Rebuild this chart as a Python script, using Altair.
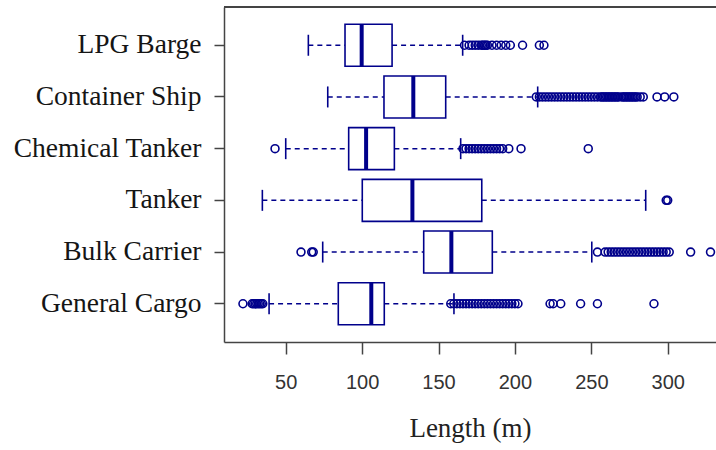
import altair as alt
import pandas as pd

categories = ["LPG Barge", "Container Ship", "Chemical Tanker", "Tanker", "Bulk Carrier", "General Cargo"]
whisker_low = [64.8, 77.5, 50.0, 34.7, 74.2, 39.1]
q1 = [88.8, 114.3, 91.2, 100.1, 140.3, 84.4]
median = [99.7, 133.5, 102.6, 132.9, 158.4, 106.0]
q3 = [119.6, 154.7, 121.1, 178.3, 185.2, 114.5]
whisker_high = [165.8, 214.9, 164.5, 285.6, 250.3, 160.1]

outliers_lpg = [167, 170, 172, 174, 176, 178, 179, 180, 181, 182, 185, 188, 191, 194, 197, 205, 216, 219]
outliers_container = [214, 216, 218, 220, 222, 224, 226, 228, 230, 232, 234, 236, 238, 240, 242, 244,
                      246, 248, 250, 252, 254, 256, 257, 258, 259, 260, 261, 262, 263, 264, 265, 266,
                      267, 268, 270, 271, 272, 273, 274, 275, 276, 277, 278, 279, 280, 282, 284,
                      293, 298, 304]
outliers_chemical = [43, 166, 168, 170, 172, 174, 176, 178, 180, 182, 184, 186, 188, 190, 192, 196, 204, 248]
outliers_tanker = [299, 300]
outliers_bulk = [60, 67, 68, 254, 259, 261, 263, 265, 267, 269, 271, 273, 275, 277, 279, 281, 283,
                 285, 287, 289, 291, 293, 295, 297, 299, 301, 315, 328]
outliers_general = [22, 28, 29, 30, 31, 32, 33, 34, 35, 158, 160, 162, 164, 166, 168, 170, 172, 174,
                    176, 178, 180, 182, 184, 186, 188, 190, 192, 194, 196, 198, 200, 202,
                    223, 225, 230, 243, 254, 291]

outlier_lists = [outliers_lpg, outliers_container, outliers_chemical,
                 outliers_tanker, outliers_bulk, outliers_general]

stats = pd.DataFrame({
    "type": categories,
    "lo": whisker_low,
    "q1": q1,
    "med": median,
    "q3": q3,
    "hi": whisker_high,
})
outs = pd.DataFrame(
    [{"type": c, "value": v} for c, lst in zip(categories, outlier_lists) for v in lst]
)

NAVY = "#00008B"
FRAME = "#444444"
W, H = 492, 335

xscale = alt.Scale(domain=[9.6, 331.6], nice=False, zero=False)
yscale = alt.Scale(domain=categories, paddingInner=0, paddingOuter=0.24)

xaxis = alt.Axis(values=[50, 100, 150, 200, 250, 300], tickSize=12, labelPadding=18,
                 labelFont="Liberation Sans", labelFontSize=20, labelColor="#333333",
                 title="Length (m)", titleFont="Liberation Serif", titleFontSize=27,
                 titleFontWeight="normal", titleColor="#222222", titlePadding=23,
                 grid=False, domainColor=FRAME, domainWidth=1.5, tickColor=FRAME, tickWidth=1.5)
yaxis = alt.Axis(tickSize=10, labelPadding=13, labelFont="Liberation Serif", labelFontSize=27.5,
                 labelColor="#151515", labelLimit=400, title=None, grid=False,
                 domainColor=FRAME, domainWidth=1.5, tickColor=FRAME, tickWidth=1.5)

base = alt.Chart(stats)
Y = alt.Y("type:N", scale=yscale, axis=yaxis, sort=categories)

whisk_lo = base.mark_rule(color=NAVY, strokeDash=[5, 4], strokeWidth=1.5).encode(
    x=alt.X("lo:Q", scale=xscale, axis=xaxis), x2="q1:Q", y=Y)
whisk_hi = base.mark_rule(color=NAVY, strokeDash=[5, 4], strokeWidth=1.5).encode(
    x=alt.X("q3:Q", scale=xscale, axis=xaxis), x2="hi:Q", y=Y)
box = base.mark_bar(fill="white", stroke=NAVY, strokeWidth=1.6, size=42).encode(
    x=alt.X("q1:Q", scale=xscale, axis=xaxis), x2="q3:Q", y=Y)
med = base.mark_tick(color=NAVY, thickness=4, size=42, opacity=1).encode(
    x=alt.X("med:Q", scale=xscale, axis=xaxis), y=Y)
staple_lo = base.mark_tick(color=NAVY, thickness=1.6, size=21, opacity=1).encode(
    x=alt.X("lo:Q", scale=xscale, axis=xaxis), y=Y)
staple_hi = base.mark_tick(color=NAVY, thickness=1.6, size=21, opacity=1).encode(
    x=alt.X("hi:Q", scale=xscale, axis=xaxis), y=Y)
points = alt.Chart(outs).mark_point(shape="circle", filled=False, color=NAVY, size=62,
                                    strokeWidth=1.6, opacity=1).encode(
    x=alt.X("value:Q", scale=xscale, axis=xaxis), y=Y)
top_line = alt.Chart(stats).mark_rule(color=FRAME, strokeWidth=2).encode(
    x=alt.value(0), x2=alt.value(W), y=alt.value(0))

chart = alt.layer(whisk_lo, whisk_hi, box, med, staple_lo, staple_hi, points, top_line).properties(
    width=W, height=H,
    autosize=alt.AutoSizeParams(type="none"),
    padding={"left": 224, "top": 7, "right": 0, "bottom": 108},
    background="white",
).configure_view(stroke=None)

chart.save("out.html", embed_options={"renderer": "svg", "actions": False})
